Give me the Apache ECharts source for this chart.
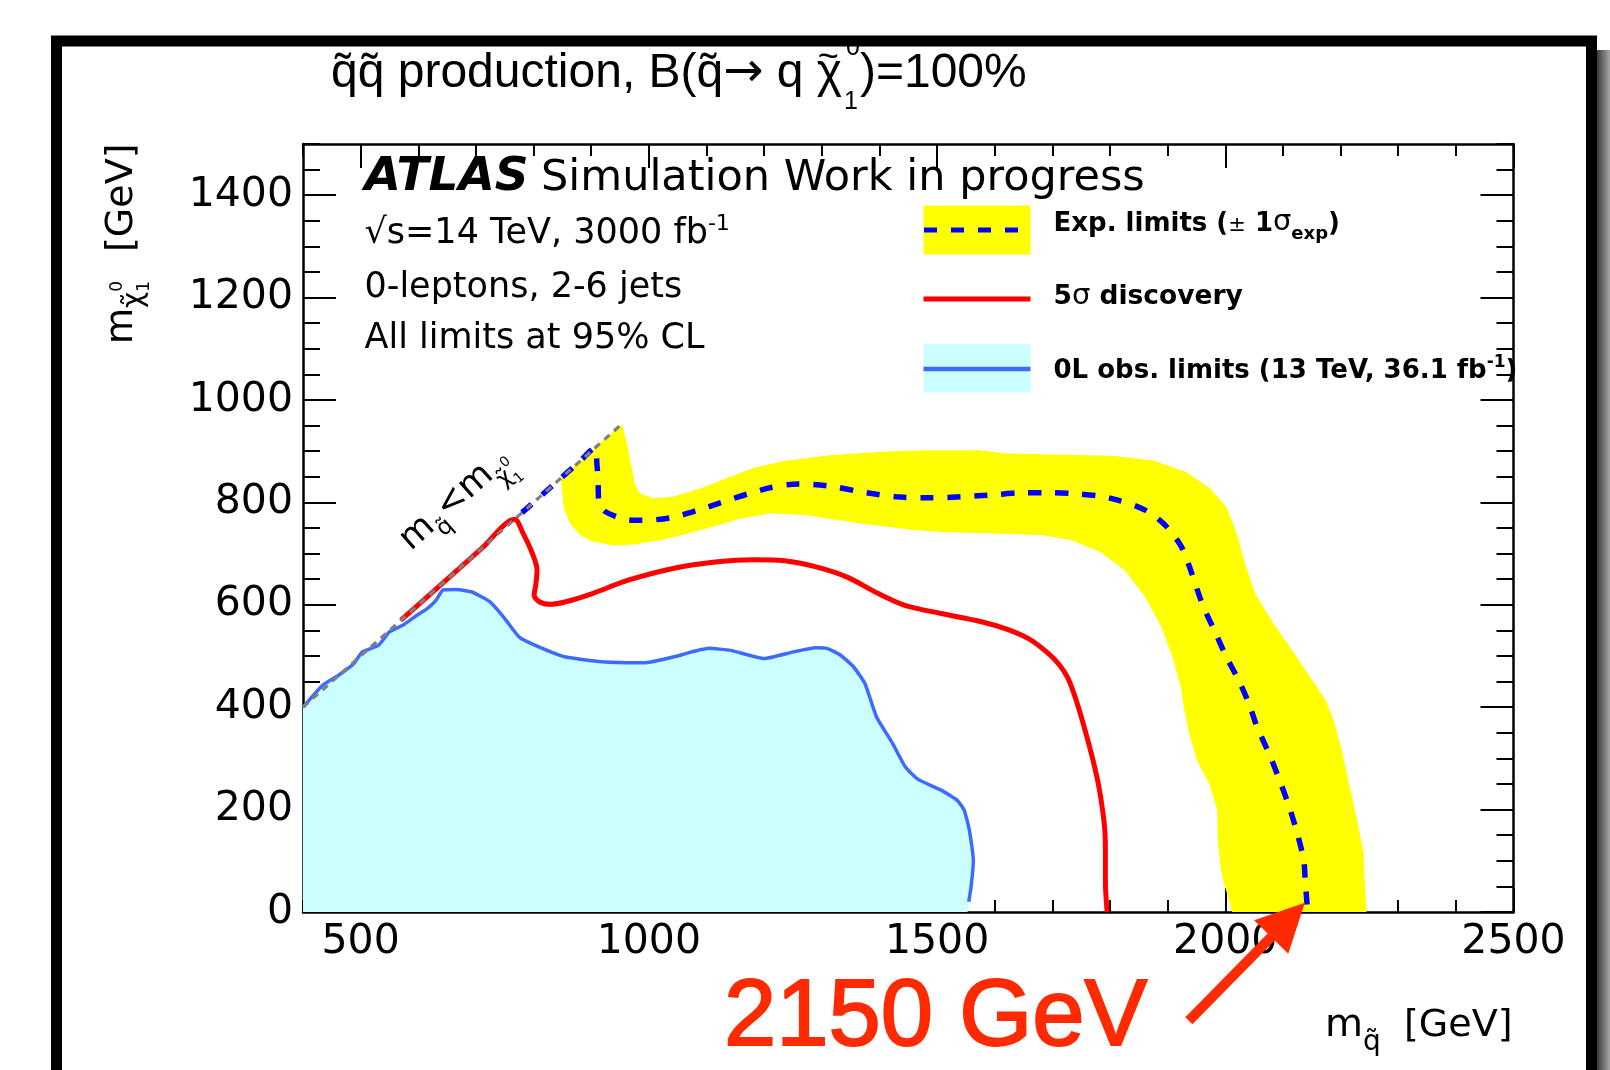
<!DOCTYPE html>
<html><head><meta charset="utf-8">
<script src="https://cdn.jsdelivr.net/npm/echarts@6/dist/echarts.min.js"></script>
<style>html,body{margin:0;padding:0;background:#fff}#c{width:1610px;height:1070px}</style>
</head><body><div id="c"></div>
<script>
// ---------------- data (GeV) ----------------
const xMajorTicks = [500, 1000, 1500, 2000, 2500];
const yMajorTicks = [0, 200, 400, 600, 800, 1000, 1200, 1400];

// kinematic boundary m(squark) = m(neutralino)
const diagonal = [[400, 400], [952, 952]];

// observed 0L limit (13 TeV, 36.1 fb-1)
const obsLimit = [[400,400],[434,443],[461,462],[488,485],[503,508],[531,521],[550,547],[573,560],[593,576],[616,593],[631,609],[643,629],[666,630],[693,625],[724,606],[748,576],[775,537],[809,518],[856,498],[918,489],[995,487],[1042,498],[1104,515],[1142,511],[1200,495],[1251,508],[1290,516],[1309,515],[1332,502],[1355,479],[1375,446],[1395,381],[1423,329],[1445,283],[1467,259],[1507,238],[1535,218],[1547,199],[1556,160],[1563,101],[1559,49],[1555,20]];
const obsFillEnds = [[400, 0], [1553, 0]];

// 5 sigma discovery contour
const discovery5s = [[570,570],[640,640],[710,710],[767,767],[782,739],[798,700],[806,668],[804,640],[801,619],[810,606],[829,601],[856,606],[902,622],[964,648],[1042,671],[1119,684],[1181,688],[1235,686],[1290,674],[1344,654],[1398,622],[1444,599],[1507,583],[1577,567],[1622,552],[1660,533],[1691,507],[1712,483],[1727,457],[1737,428],[1746,397],[1755,362],[1764,325],[1773,285],[1781,243],[1787,200],[1791,160],[1792,120],[1792,60],[1795,0]];

// expected limit (median)
const expMedian = [[780,780],[840,840],[880,880],[906,906],[910,873],[912,837],[913,804],[922,784],[944,772],[964,766],[990,765],[1037,770],[1083,784],[1126,800],[1173,817],[1212,829],[1259,836],[1313,832],[1367,821],[1429,811],[1493,809],[1542,811],[1599,815],[1648,819],[1698,819],[1740,817],[1783,812],[1818,803],[1861,785],[1896,755],[1924,713],[1942,661],[1960,602],[1981,550],[2002,498],[2023,453],[2041,407],[2055,362],[2076,309],[2094,258],[2111,205],[2125,153],[2136,101],[2139,56],[2143,0]];

// +-1 sigma band edges
const expOuter = [[953,953],[962,915],[970,869],[976,834],[985,817],[1008,808],[1042,811],[1089,827],[1135,847],[1181,867],[1235,881],[1313,892],[1406,899],[1483,902],[1575,902],[1613,896],[1719,893],[1804,891],[1875,882],[1931,860],[1974,827],[2002,791],[2020,739],[2034,681],[2052,622],[2080,570],[2116,511],[2151,453],[2174,414],[2188,375],[2202,316],[2216,244],[2230,173],[2240,114],[2242,56],[2245,0]];
const expInner = [[847,847],[848,840],[852,791],[863,759],[881,736],[904,723],[938,716],[973,718],[1019,726],[1066,739],[1112,753],[1158,768],[1212,779],[1274,775],[1367,759],[1460,746],[1507,742],[1613,739],[1684,736],[1733,726],[1783,703],[1825,668],[1861,615],[1889,557],[1910,492],[1924,433],[1928,400],[1937,349],[1951,296],[1972,251],[1986,199],[1987,140],[1993,75],[2003,36],[2012,0]];

const arrowTipValue = [2138, 18];

// ---------------- helpers ----------------
const bandPolygon = expOuter.concat(expInner.slice().reverse());
const obsPolygon = [obsFillEnds[0]].concat(obsLimit, [obsFillEnds[1]]);

const ROOTF = "'DejaVu Sans'";
const SLIDEF = "'Liberation Sans'";
const mctx = document.createElement('canvas').getContext('2d');
function fontStr(p){ return (p.st||'normal')+' '+(p.w||'normal')+' '+p.s+'px '+p.f; }
function textRun(x0, base, pieces, defaults){
  const out = []; let x = x0;
  pieces.forEach(function(raw){
    const p = Object.assign({}, defaults, raw);
    const font = fontStr(p);
    mctx.font = font;
    const w = mctx.measureText(p.t).width;
    const px = (p.ax !== undefined ? p.ax : x) + (p.dx||0);
    const st = {text:p.t, font:font, fill:p.c||'#000', textAlign:'left', textVerticalAlign:'middle', verticalAlign:'middle'};
    if (p.stroke) { st.stroke = p.c; st.lineWidth = p.stroke; }
    out.push({type:'text', x:px, y:base + (p.dy||0) - 0.346*p.s, silent:true, z:100, style:st});
    if (p.adv !== false) x = px + w;
  });
  return out;
}
function polyRenderer(poly, fill){
  return function(params, api){
    if (params.dataIndex !== 0) return null;
    return {type:'polygon', shape:{points: poly.map(function(p){return api.coord(p);})}, style:{fill:fill}};
  };
}

const chart = echarts.init(document.getElementById('c'), null, {renderer:'canvas'});
const gridRect = {left:303, top:144, right:96.5, bottom:158};
const tickStyle = {color:'#000', width:2};
const plainLabel = function(v){ return String(v); };
function ax(extra){ return Object.assign({type:'value', splitLine:{show:false}, axisPointer:{show:false}}, extra); }

chart.setOption({
  animation:false,
  backgroundColor:'#ffffff',
  grid:[Object.assign({}, gridRect), Object.assign({}, gridRect)],
  xAxis:[
    ax({gridIndex:0, position:'bottom', min:400, max:2500,
      axisLine:{show:true, onZero:false, lineStyle:{color:'#000', width:2.5}},
      axisTick:{show:true, inside:true, length:24, customValues:xMajorTicks, lineStyle:tickStyle},
      axisLabel:{show:true, customValues:xMajorTicks, formatter:plainLabel, color:'#000', fontSize:41, fontFamily:'DejaVu Sans', margin:10}}),
    ax({gridIndex:0, position:'top', min:400, max:2500,
      axisLine:{show:true, onZero:false, lineStyle:{color:'#000', width:2.5}},
      axisTick:{show:true, inside:true, length:24, customValues:xMajorTicks, lineStyle:tickStyle},
      axisLabel:{show:false}}),
    ax({gridIndex:1, position:'bottom', min:400, max:2500, interval:100,
      axisLine:{show:false, onZero:false}, axisTick:{show:true, inside:true, length:12, lineStyle:tickStyle}, axisLabel:{show:false}}),
    ax({gridIndex:1, position:'top', min:400, max:2500, interval:100,
      axisLine:{show:false, onZero:false}, axisTick:{show:true, inside:true, length:12, lineStyle:tickStyle}, axisLabel:{show:false}})
  ],
  yAxis:[
    ax({gridIndex:0, position:'left', min:0, max:1500,
      axisLine:{show:true, onZero:false, lineStyle:{color:'#000', width:2.5}},
      axisTick:{show:true, inside:true, length:33, customValues:yMajorTicks, lineStyle:tickStyle},
      axisLabel:{show:true, customValues:yMajorTicks, formatter:plainLabel, color:'#000', fontSize:41, fontFamily:'DejaVu Sans', margin:10}}),
    ax({gridIndex:0, position:'right', min:0, max:1500,
      axisLine:{show:true, onZero:false, lineStyle:{color:'#000', width:2.5}},
      axisTick:{show:true, inside:true, length:33, customValues:yMajorTicks, lineStyle:tickStyle},
      axisLabel:{show:false}}),
    ax({gridIndex:1, position:'left', min:0, max:1500, interval:50,
      axisLine:{show:false, onZero:false}, axisTick:{show:true, inside:true, length:17, lineStyle:tickStyle}, axisLabel:{show:false}}),
    ax({gridIndex:1, position:'right', min:0, max:1500, interval:50,
      axisLine:{show:false, onZero:false}, axisTick:{show:true, inside:true, length:17, lineStyle:tickStyle}, axisLabel:{show:false}})
  ],
  series:[
    {type:'custom', name:'band', xAxisIndex:0, yAxisIndex:0, data:bandPolygon, renderItem:polyRenderer(bandPolygon, '#ffff00'), silent:true, z:1},
    {type:'custom', name:'obsFill', xAxisIndex:0, yAxisIndex:0, data:obsPolygon, renderItem:polyRenderer(obsPolygon, '#ccffff'), silent:true, z:2},
    {type:'line', name:'obs', xAxisIndex:0, yAxisIndex:0, data:obsLimit, showSymbol:false, symbol:'none', silent:true, z:3, smooth:0.15,
      lineStyle:{color:'#3d6bff', width:3.5}},
    {type:'line', name:'disc', xAxisIndex:0, yAxisIndex:0, data:discovery5s, showSymbol:false, symbol:'none', silent:true, z:4, smooth:0.3,
      lineStyle:{color:'#ff0000', width:5}},
    {type:'line', name:'exp', xAxisIndex:0, yAxisIndex:0, data:expMedian, showSymbol:false, symbol:'none', silent:true, z:5, smooth:0.3,
      lineStyle:{color:'#0000ff', width:5.5, type:[13,14]}},
    {type:'line', name:'diag', xAxisIndex:0, yAxisIndex:0, data:diagonal, showSymbol:false, symbol:'none', silent:true, z:6,
      lineStyle:{color:'#808080', width:3.2, type:[7,6]}}
  ]
});

// ---------------- annotations ----------------
function px(v){ return chart.convertToPixel({gridIndex:0}, v); }
const d1 = px(diagonal[0]), d2 = px(diagonal[1]);
const theta = Math.atan2(d1[1]-d2[1], d2[0]-d1[0]);
const labAnchor = px([575, 575]);
const tip = px(arrowTipValue);
const tail = [tip[0]-116, tip[1]+118];
const ang = Math.atan2(tip[1]-tail[1], tip[0]-tail[0]);
const headLen = 48, headHalf = 24;
const hb = [tip[0]-headLen*Math.cos(ang), tip[1]-headLen*Math.sin(ang)];
const nrm = [-Math.sin(ang), Math.cos(ang)];

let g = [];
// frame
g.push({type:'rect', shape:{x:1597, y:50, width:13, height:1020}, silent:true, z:0,
  style:{fill:{type:'linear', x:0, y:0, x2:1, y2:0, colorStops:[{offset:0, color:'#3a3a3a'},{offset:1, color:'#a8a8a8'}]}}});
g.push({type:'rect', shape:{x:56.5, y:41, width:1535, height:1100}, silent:true, z:0,
  style:{fill:null, stroke:'#000', lineWidth:11}});

// title
g = g.concat(textRun(331, 90, [
  {t:'q\u0303q\u0303 production, B(q\u0303'}, {t:'\u2192', f:ROOTF}, {t:' q '},
  {t:'~', s:36, dy:-19, dx:1, adv:false}, {t:'\u03C7'},
  {t:'1', s:25, dy:21, dx:2, adv:false}, {t:'0', s:25, dy:-33, dx:4}, {t:')=100%'}
], {s:48, f:SLIDEF}));

// ATLAS block
g = g.concat(textRun(364.5, 194, [
  {t:'ATLAS', w:'bold', st:'italic', s:47}, {t:'Simulation Work in progress', s:43, ax:541}
], {f:ROOTF}));
g = g.concat(textRun(364.5, 246.5, [
  {t:'\u221As=14 TeV, 3000 fb'}, {t:'-1', s:22, dy:-15}
], {s:35, f:ROOTF}));
g = g.concat(textRun(364.5, 300, [{t:'0-leptons, 2-6 jets'}], {s:35, f:ROOTF}));
g = g.concat(textRun(364.5, 351.5, [{t:'All limits at 95% CL'}], {s:35, f:ROOTF}));

// legend
g.push({type:'rect', shape:{x:923.5, y:205.5, width:107, height:49}, style:{fill:'#ffff00'}, silent:true, z:50});
g.push({type:'line', shape:{x1:924, y1:230, x2:1020, y2:230}, style:{stroke:'#0000ff', lineWidth:5, lineDash:[13,14]}, silent:true, z:51});
g.push({type:'line', shape:{x1:923.5, y1:299, x2:1030.5, y2:299}, style:{stroke:'#ff0000', lineWidth:5}, silent:true, z:51});
g.push({type:'rect', shape:{x:923.5, y:344, width:107, height:48.5}, style:{fill:'#ccffff'}, silent:true, z:50});
g.push({type:'line', shape:{x1:923.5, y1:369, x2:1030.5, y2:369}, style:{stroke:'#3d6bff', lineWidth:4.5}, silent:true, z:51});
g = g.concat(textRun(1053.5, 233, [
  {t:'Exp. limits ('}, {t:'\u00B1', w:'normal', s:21}, {t:' 1'}, {t:'\u03C3', w:'normal', s:29},
  {t:'exp', s:18, dy:8}, {t:')'}
], {s:26, w:'bold', f:ROOTF}));
g = g.concat(textRun(1053.5, 306.5, [
  {t:'5'}, {t:'\u03C3', w:'normal', s:29}, {t:' discovery'}
], {s:26.5, w:'bold', f:ROOTF}));
g = g.concat(textRun(1053.5, 380, [
  {t:'0L obs. limits (13 TeV, 36.1 fb'}, {t:'-1', s:17, dy:-12}, {t:')'}
], {s:26, w:'bold', f:ROOTF}));

// y axis title (rotated)
g.push({type:'group', x:135, y:344, rotation:Math.PI/2, silent:true, z:100,
  children: textRun(0, 0, [
    {t:'m', s:37}, {t:'\u03C7\u0303', s:28, dy:9}, {t:'1', s:17, dy:15, adv:false}, {t:'0', s:17, dy:-12},
    {t:'[GeV]', s:38, ax:92}
  ], {f:ROOTF})});

// x axis title
g = g.concat(textRun(1325, 1039, [
  {t:'m', s:39}, {t:'q\u0303', s:28, dy:13}, {t:'[GeV]', s:38, ax:1404}
], {f:ROOTF}));

// diagonal label
g.push({type:'group', x:labAnchor[0]+9, y:labAnchor[1]-64, rotation:theta, silent:true, z:100,
  children: textRun(0, 0, [
    {t:'m', s:35}, {t:'q\u0303', s:23, dy:10}, {t:'<', s:35}, {t:'m', s:35},
    {t:'\u03C7\u0303', s:23, dy:13}, {t:'1', s:14, dy:19, adv:false}, {t:'0', s:14, dy:-2}
  ], {f:ROOTF})});

// highlighted value and arrow
g = g.concat(textRun(724, 1052, [{t:'2150 GeV', s:94, c:'#ff2a00', stroke:2}], {f:SLIDEF}));
g.push({type:'line', shape:{x1:tail[0], y1:tail[1], x2:hb[0], y2:hb[1]}, style:{stroke:'#ff2a00', lineWidth:10}, silent:true, z:100});
g.push({type:'polygon', shape:{points:[tip, [hb[0]+nrm[0]*headHalf, hb[1]+nrm[1]*headHalf], [hb[0]-nrm[0]*headHalf, hb[1]-nrm[1]*headHalf]]},
  style:{fill:'#ff2a00'}, silent:true, z:100});

chart.setOption({graphic:{elements:g}});
</script></body></html>
